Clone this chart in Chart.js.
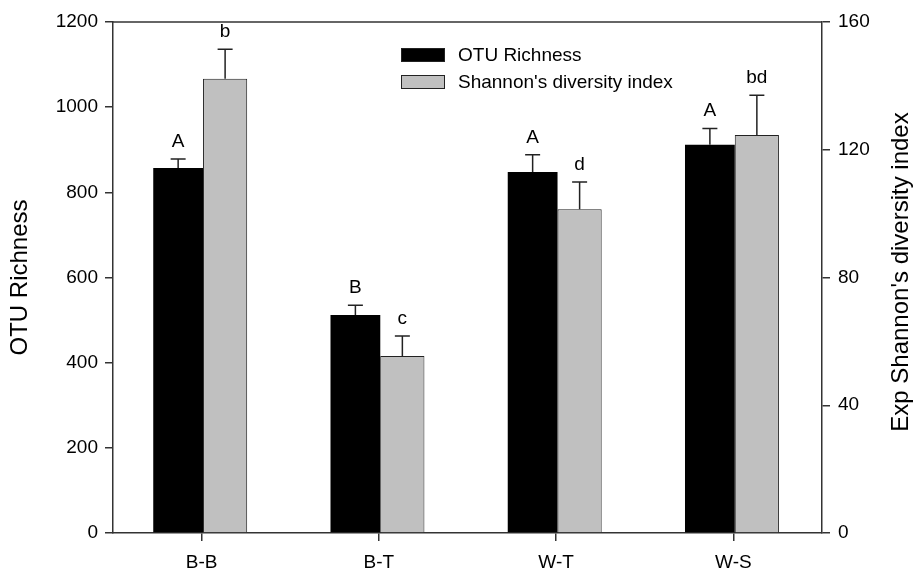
<!DOCTYPE html>
<html>
<head>
<meta charset="utf-8">
<script src="https://cdn.jsdelivr.net/npm/chart.js@4/dist/chart.umd.min.js"></script>
<style>
  html, body { margin: 0; padding: 0; background: #fff; }
  #wrap { width: 915px; height: 570px; }
</style>
</head>
<body>
<div id="wrap"><canvas id="c" width="915" height="570"></canvas></div>
<script>
// ---- data ----
const categories = ['B-B', 'B-T', 'W-T', 'W-S'];
const otuRichness = [857, 512, 848, 912];
const otuError = [21, 23, 40, 38];
const otuLetters = ['A', 'B', 'A', 'A'];
const shannonIndex = [142.2, 55.4, 101.4, 124.6];
const shannonError = [9.3, 6.3, 8.5, 12.5];
const shannonLetters = ['b', 'c', 'd', 'bd'];
const seriesNames = ['OTU Richness', "Shannon's diversity index"];
const leftAxisTitle = 'OTU Richness';
const rightAxisTitle = "Exp Shannon's diversity index";
const leftMax = 1200, leftStep = 200;
const rightMax = 160, rightStep = 40;

const FONT = "'Liberation Sans', Arial, sans-serif";
const AXIS_COLOR = '#333';

const overlay = {
  id: 'overlay',
  afterDatasetsDraw(chart) {
    const ctx = chart.ctx;
    const area = chart.chartArea;
    ctx.save();
    // top frame line
    ctx.strokeStyle = AXIS_COLOR;
    ctx.lineWidth = 1.5;
    ctx.beginPath();
    ctx.moveTo(area.left, area.top);
    ctx.lineTo(area.right, area.top);
    ctx.stroke();

    // error bars + letters
    const sets = [
      { idx: 0, vals: otuRichness, err: otuError, letters: otuLetters, scale: chart.scales.y },
      { idx: 1, vals: shannonIndex, err: shannonError, letters: shannonLetters, scale: chart.scales.y1 }
    ];
    ctx.font = '19px ' + FONT;
    ctx.textAlign = 'center';
    ctx.textBaseline = 'alphabetic';
    sets.forEach(s => {
      const meta = chart.getDatasetMeta(s.idx);
      meta.data.forEach((bar, i) => {
        const x = bar.x;
        const yTop = s.scale.getPixelForValue(s.vals[i]);
        const yCap = s.scale.getPixelForValue(s.vals[i] + s.err[i]);
        ctx.strokeStyle = '#222';
        ctx.lineWidth = 1.5;
        ctx.beginPath();
        ctx.moveTo(x, yTop);
        ctx.lineTo(x, yCap);
        ctx.moveTo(x - 7.5, yCap);
        ctx.lineTo(x + 7.5, yCap);
        ctx.stroke();
        ctx.fillStyle = '#000';
        ctx.fillText(s.letters[i], x, yCap - 12);
      });
    });

    // legend
    const lx = 401, lw = 44, lh = 14;
    const rows = [
      { y: 48, fill: '#000', label: seriesNames[0] },
      { y: 75, fill: '#c0c0c0', label: seriesNames[1] }
    ];
    ctx.textAlign = 'left';
    ctx.textBaseline = 'middle';
    rows.forEach(r => {
      ctx.fillStyle = r.fill;
      ctx.fillRect(lx, r.y, lw, lh);
      ctx.strokeStyle = '#222';
      ctx.lineWidth = 1;
      ctx.strokeRect(lx + 0.5, r.y + 0.5, lw - 1, lh - 1);
      ctx.fillStyle = '#000';
      ctx.fillText(r.label, lx + 57, r.y + lh / 2 + 1);
    });

    // right axis title (reads bottom-to-top)
    ctx.translate(901, 272);
    ctx.rotate(-Math.PI / 2);
    ctx.font = '24px ' + FONT;
    ctx.textAlign = 'center';
    ctx.textBaseline = 'middle';
    ctx.fillStyle = '#000';
    ctx.fillText(rightAxisTitle, 0, 0);
    ctx.restore();
  }
};

new Chart(document.getElementById('c'), {
  type: 'bar',
  data: {
    labels: categories,
    datasets: [
      {
        label: seriesNames[0],
        data: otuRichness,
        yAxisID: 'y',
        backgroundColor: '#000',
        borderColor: '#000',
        borderWidth: 0,
        categoryPercentage: 0.53,
        barPercentage: 1.06
      },
      {
        label: seriesNames[1],
        data: shannonIndex,
        yAxisID: 'y1',
        backgroundColor: '#c0c0c0',
        borderColor: '#222',
        borderWidth: 1,
        borderSkipped: 'bottom',
        categoryPercentage: 0.53,
        barPercentage: 0.94
      }
    ]
  },
  options: {
    responsive: false,
    animation: false,
    devicePixelRatio: 1,
    layout: { padding: { top: 22, left: 0, right: 0, bottom: 0 } },
    plugins: {
      legend: { display: false },
      tooltip: { enabled: false }
    },
    scales: {
      x: {
        offset: true,
        afterFit: s => { s.height = 37; },
        grid: { offset: false, drawOnChartArea: false, drawTicks: true, tickLength: 8, color: AXIS_COLOR, lineWidth: 1.5 },
        border: { display: true, color: AXIS_COLOR, width: 1.5 },
        ticks: { color: '#000', font: { family: FONT, size: 19 }, padding: 10, maxRotation: 0 }
      },
      y: {
        position: 'left',
        min: 0, max: leftMax,
        afterFit: s => { s.width = 113; },
        grid: { drawOnChartArea: false, tickLength: 8, color: AXIS_COLOR, lineWidth: 1.5 },
        border: { display: true, color: AXIS_COLOR, width: 1.5 },
        ticks: { stepSize: leftStep, color: '#000', font: { family: FONT, size: 19 }, padding: 7, callback: v => String(v) },
        title: { display: true, text: leftAxisTitle, color: '#000', font: { family: FONT, size: 24 }, padding: { top: 6, bottom: 0 } }
      },
      y1: {
        position: 'right',
        min: 0, max: rightMax,
        afterFit: s => { s.width = 93; },
        grid: { drawOnChartArea: false, tickLength: 8, color: AXIS_COLOR, lineWidth: 1.5 },
        border: { display: true, color: AXIS_COLOR, width: 1.5 },
        ticks: { stepSize: rightStep, color: '#000', font: { family: FONT, size: 19 }, padding: 8, callback: v => String(v) },
        title: { display: false }
      }
    }
  },
  plugins: [overlay]
});
</script>
</body>
</html>
